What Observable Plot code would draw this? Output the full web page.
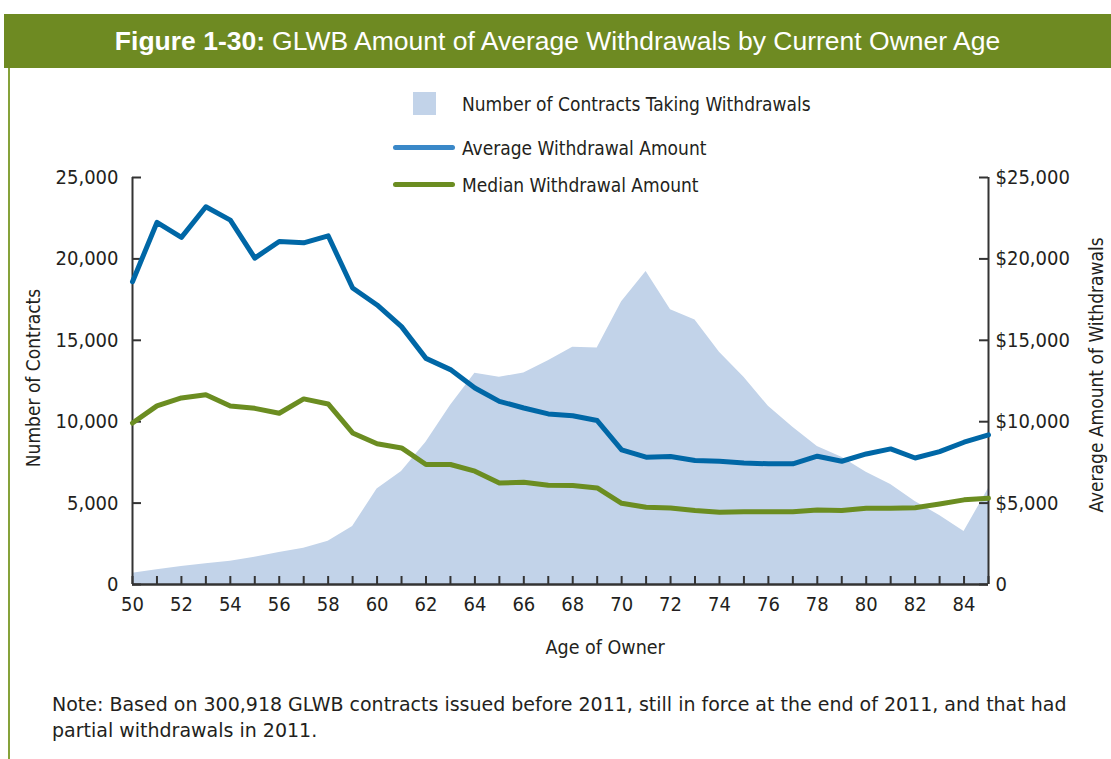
<!DOCTYPE html>
<html>
<head>
<meta charset="utf-8">
<script src="https://cdn.jsdelivr.net/npm/d3@7"></script>
<script src="https://cdn.jsdelivr.net/npm/@observablehq/plot@0.6"></script>
<style>
  html, body { margin: 0; padding: 0; background: #fff; }
  #page { position: relative; width: 1111px; height: 759px; overflow: hidden; background: #fff; }
  #header { position: absolute; left: 4px; top: 14px; width: 1107px; height: 54px; background: #6e8a22;
    color: #fff; font-family: "Liberation Sans", "DejaVu Sans", sans-serif; font-size: 26.5px;
    display: flex; align-items: center; justify-content: center; }
  #header b { font-weight: bold; margin-right: 7px; }
  #border { position: absolute; left: 8px; top: 68px; width: 2px; height: 700px; background: #86a23a; }
  #chart { position: absolute; left: 0; top: 80px; }
  .narrow { font-family: "DejaVu Sans Condensed", "Liberation Sans Narrow", sans-serif; color: #231f20; }
  #legend { position: absolute; left: 0; top: 0; width: 1111px; height: 200px; pointer-events: none; }
  .leg { position: absolute; font-size: 19px; line-height: 24px; white-space: nowrap; }
  .sw { position: absolute; }
  .ytitle { position: absolute; font-size: 19px; white-space: nowrap; transform-origin: center center; }
  #xtitle { position: absolute; font-size: 19.5px; white-space: nowrap; }
  #note { position: absolute; left: 52px; top: 691px; width: 1040px; font-family: "DejaVu Sans", "Liberation Sans", sans-serif;
    font-size: 19px; line-height: 26px; color: #231f20; }
</style>
</head>
<body>
<div id="page">
  <div id="header"><b>Figure 1-30:</b> GLWB Amount of Average Withdrawals by Current Owner Age</div>
  <div id="border"></div>
  <div id="chart"></div>
  <div id="legend"></div>
  <div id="xtitle" class="narrow"></div>
  <div id="ytitleL" class="ytitle narrow"></div>
  <div id="ytitleR" class="ytitle narrow"></div>
  <div id="note">Note: Based on 300,918 GLWB contracts issued before 2011, still in force at the end of 2011, and that had partial withdrawals in 2011.</div>
</div>
<script>
// ---- Data ----
const ages = [50,51,52,53,54,55,56,57,58,59,60,61,62,63,64,65,66,67,68,69,70,71,72,73,74,75,76,77,78,79,80,81,82,83,84,85];
const contracts = [690, 900, 1100, 1270, 1430, 1680, 1960, 2230, 2660, 3560, 5870, 6940, 8740, 10990, 12970, 12730, 12990, 13750, 14570, 14530, 17370, 19230, 16880, 16250, 14260, 12730, 10950, 9660, 8470, 7820, 6900, 6140, 5100, 4240, 3250, 5900];
const averageAmount = [18600, 22240, 21320, 23200, 22380, 20050, 21070, 20990, 21420, 18210, 17170, 15840, 13890, 13200, 12070, 11250, 10840, 10480, 10370, 10070, 8270, 7820, 7860, 7620, 7570, 7470, 7410, 7410, 7880, 7570, 8020, 8330, 7770, 8160, 8740, 9190];
const medianAmount = [9920, 10970, 11460, 11660, 10970, 10820, 10520, 11400, 11090, 9310, 8640, 8390, 7370, 7370, 6960, 6240, 6280, 6100, 6080, 5930, 4990, 4750, 4700, 4540, 4440, 4470, 4470, 4470, 4580, 4540, 4690, 4690, 4720, 4950, 5200, 5300];
const xTickLabels = [50,52,54,56,58,60,62,64,66,68,70,72,74,76,78,80,82,84];
const yTicks = [0, 5000, 10000, 15000, 20000, 25000];
const seriesNames = ["Number of Contracts Taking Withdrawals", "Average Withdrawal Amount", "Median Withdrawal Amount"];
const xTitle = "Age of Owner";
const yTitleLeft = "Number of Contracts";
const yTitleRight = "Average Amount of Withdrawals";

const colors = { area: "#c2d3e9", avg: "#0067a6", med: "#6b8d21", avgLegend: "#3a88c8", medLegend: "#6b8d21", axis: "#333333" };

const rows = ages.map((a, i) => ({ age: a, contracts: contracts[i], avg: averageAmount[i], med: medianAmount[i] }));

const fmtLeft = d3.format(",");
const fmtRight = d => d === 0 ? "0" : "$" + d3.format(",")(d);

const plot = Plot.plot({
  width: 1111,
  height: 600,
  marginTop: 97,
  marginBottom: 96,
  marginLeft: 132,
  marginRight: 123,
  style: { fontFamily: '"DejaVu Sans Condensed", "Liberation Sans Narrow", sans-serif', fontSize: "20px", color: "#231f20", background: "transparent" },
  x: { domain: [50, 85] },
  y: { domain: [0, 25000] },
  marks: [
    Plot.areaY(rows, { x: "age", y: "contracts", fill: colors.area }),
    // axis lines
    Plot.ruleX([50, 85], { x: d => d, y1: 0, y2: 25000, stroke: colors.axis, strokeWidth: 2 }),
    Plot.ruleY([0], { x1: 50, x2: 85, y: d => d, stroke: colors.axis, strokeWidth: 2.5 }),
    // inward ticks
    Plot.ruleX(ages, { x: d => d, y1: 0, y2: 0, insetTop: -8, stroke: colors.axis, strokeWidth: 2 }),
    Plot.ruleY(yTicks, { y: d => d, x1: 50, x2: 50, insetRight: -9, stroke: colors.axis, strokeWidth: 2 }),
    Plot.ruleY(yTicks, { y: d => d, x1: 85, x2: 85, insetLeft: -9, stroke: colors.axis, strokeWidth: 2 }),
    // lines
    Plot.line(rows, { x: "age", y: "med", stroke: colors.med, strokeWidth: 5, strokeLinejoin: "round", strokeLinecap: "round" }),
    Plot.line(rows, { x: "age", y: "avg", stroke: colors.avg, strokeWidth: 5, strokeLinejoin: "round", strokeLinecap: "round" }),
    // tick labels
    Plot.axisX(xTickLabels, { tickSize: 0, tickPadding: 12, tickFormat: d => String(d), label: null }),
    Plot.axisY(yTicks, { anchor: "left", tickSize: 0, tickPadding: 14, tickFormat: fmtLeft, label: null }),
    Plot.axisY(yTicks, { anchor: "right", tickSize: 0, tickPadding: 7, tickFormat: fmtRight, label: null })
  ]
});
document.getElementById("chart").appendChild(plot);

// legend (HTML)
const legend = document.getElementById("legend");
function addSwatch(style) {
  const s = document.createElement("div");
  s.className = "sw";
  Object.assign(s.style, style);
  legend.appendChild(s);
}
function addLabel(text, left, top) {
  const t = document.createElement("div");
  t.className = "leg narrow";
  t.textContent = text;
  t.style.left = left + "px";
  t.style.top = top + "px";
  legend.appendChild(t);
}
addSwatch({ left: "413px", top: "92px", width: "23px", height: "23px", background: colors.area });
addLabel(seriesNames[0], 462, 92);
addSwatch({ left: "393px", top: "145px", width: "62px", height: "5px", borderRadius: "3px", background: colors.avgLegend });
addLabel(seriesNames[1], 462, 136);
addSwatch({ left: "393px", top: "182px", width: "62px", height: "5px", borderRadius: "3px", background: colors.medLegend });
addLabel(seriesNames[2], 462, 173);

// axis titles
const xt = document.getElementById("xtitle");
xt.textContent = xTitle;
xt.style.left = (605 - xt.offsetWidth / 2) + "px";
xt.style.top = (647 - xt.offsetHeight / 2) + "px";

function placeRot(id, text, cx, cy) {
  const el = document.getElementById(id);
  el.textContent = text;
  const w = el.offsetWidth, h = el.offsetHeight;
  el.style.left = (cx - w / 2) + "px";
  el.style.top = (cy - h / 2) + "px";
  el.style.transform = "rotate(-90deg)";
}
placeRot("ytitleL", yTitleLeft, 33, 378);
placeRot("ytitleR", yTitleRight, 1095, 375);
</script>
</body>
</html>
